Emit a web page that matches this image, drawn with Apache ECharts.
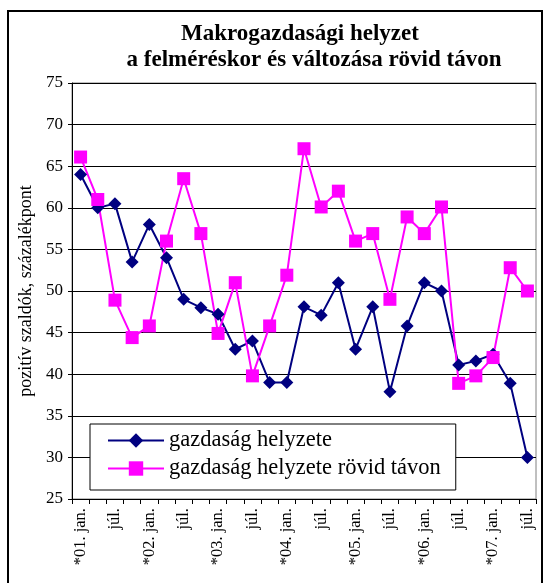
<!DOCTYPE html>
<html>
<head>
<meta charset="utf-8">
<script src="https://cdn.jsdelivr.net/npm/echarts@6/dist/echarts.min.js"></script>
<style>
  html, body { margin: 0; padding: 0; background: #fff; }
  #chart { width: 544px; height: 583px; }
</style>
</head>
<body>
<div id="chart"></div>
<script>
// negyedéves adatok, 2001 jan. - 2007 júl.
var categories = [
  '*01. jan.', 'ápr.', 'júl.', 'okt.',
  '*02. jan.', 'ápr.', 'júl.', 'okt.',
  '*03. jan.', 'ápr.', 'júl.', 'okt.',
  '*04. jan.', 'ápr.', 'júl.', 'okt.',
  '*05. jan.', 'ápr.', 'júl.', 'okt.',
  '*06. jan.', 'ápr.', 'júl.', 'okt.',
  '*07. jan.', 'ápr.', 'júl.'
];
var helyzete = [64, 60, 60.5, 53.5, 58, 54, 49, 48, 47.2, 43, 44, 39, 39, 48.1, 47.1, 51, 43, 48.1, 37.9, 45.8, 51, 50, 41.1, 41.6, 42.4, 38.9, 30];
var rovidTavon = [66.1, 61, 48.9, 44.4, 45.8, 56, 63.5, 56.9, 44.9, 51, 39.8, 45.8, 51.9, 67.1, 60.1, 62, 56, 56.9, 49, 58.9, 56.9, 60.1, 38.9, 39.8, 42, 52.8, 50];
var seriesNames = ['gazdaság helyzete', 'gazdaság helyzete rövid távon'];
var titleLines = ['Makrogazdasági helyzet', 'a felméréskor és változása rövid távon'];

var serif = '"Liberation Serif", "DejaVu Serif", serif';
var myChart = echarts.init(document.getElementById('chart'));

var option = {
  animation: false,
  backgroundColor: '#fff',
  textStyle: { fontFamily: serif, color: '#000' },
  title: [
    { text: titleLines[0], left: 295, top: 18, textAlign: 'center',
      textStyle: { fontFamily: serif, fontSize: 23, fontWeight: 'bold', color: '#000' } },
    { text: titleLines[1], left: 309, top: 44, textAlign: 'center',
      textStyle: { fontFamily: serif, fontSize: 23, fontWeight: 'bold', color: '#000' } }
  ],
  graphic: [
    { type: 'rect', shape: { x: 8, y: 11, width: 534, height: 580 },
      style: { fill: 'none', stroke: '#000', lineWidth: 2 }, silent: true }
  ],
  legend: {
    orient: 'vertical',
    left: 90, top: 424,
    padding: [5, 15, 10, 17],
    itemWidth: 56, itemHeight: 18, itemGap: 5,
    backgroundColor: '#fff',
    borderColor: '#000', borderWidth: 1,
    textStyle: { fontFamily: serif, fontSize: 22.5, color: '#000' },
    data: seriesNames
  },
  grid: {
    left: 72, right: 8, top: 83, bottom: 84,
    show: true, borderColor: '#808080', borderWidth: 1, backgroundColor: 'transparent'
  },
  xAxis: {
    type: 'category',
    data: categories,
    boundaryGap: true,
    axisLine: { lineStyle: { color: '#000', width: 1 } },
    axisTick: { show: true, interval: 0, length: 5, lineStyle: { color: '#000' } },
    axisLabel: { interval: 1, rotate: 90, fontFamily: serif, fontSize: 16.5, color: '#000', margin: 9 },
    splitLine: { show: false }
  },
  yAxis: {
    type: 'value',
    min: 25, max: 75, interval: 5,
    name: 'pozitív szaldók, százalékpont',
    nameLocation: 'middle',
    nameGap: 36,
    nameTextStyle: { fontFamily: serif, fontSize: 18, color: '#000' },
    axisLine: { show: true, lineStyle: { color: '#000', width: 1 } },
    axisTick: { show: true, length: 4, lineStyle: { color: '#000' } },
    axisLabel: { fontFamily: serif, fontSize: 17, color: '#000', margin: 9 },
    splitLine: { show: true, lineStyle: { color: '#000', width: 1 } }
  },
  series: [
    {
      name: seriesNames[0], type: 'line', data: helyzete,
      symbol: 'diamond', symbolSize: 13, showAllSymbol: true,
      lineStyle: { color: '#000080', width: 2 },
      itemStyle: { color: '#000080' }
    },
    {
      name: seriesNames[1], type: 'line', data: rovidTavon,
      symbol: 'rect', symbolSize: 13, showAllSymbol: true,
      lineStyle: { color: '#ff00ff', width: 2 },
      itemStyle: { color: '#ff00ff' }
    }
  ]
};
myChart.setOption(option);
</script>
</body>
</html>
